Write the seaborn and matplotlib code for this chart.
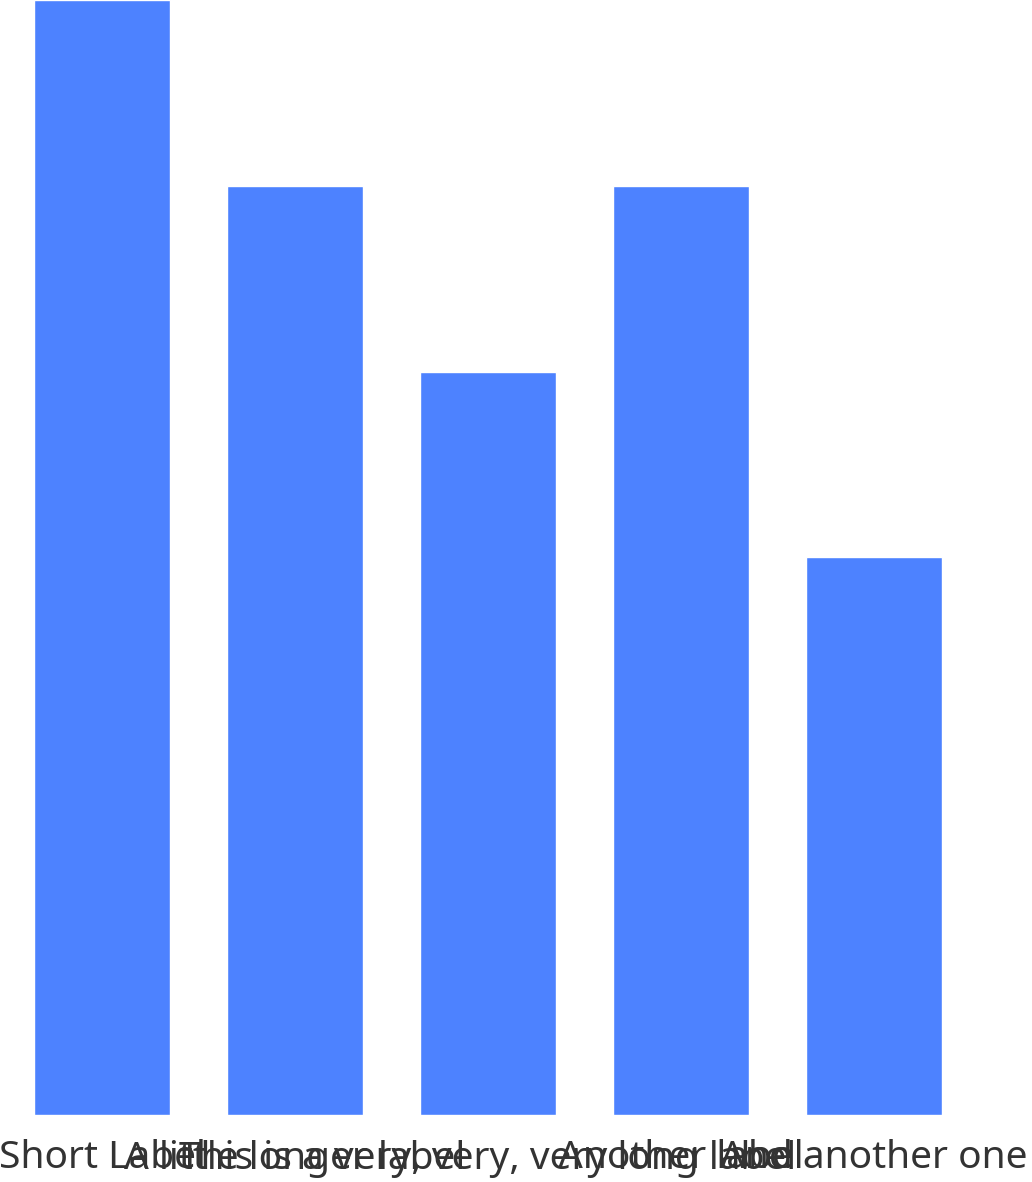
import matplotlib
matplotlib.use("Agg")
import matplotlib.pyplot as plt
import seaborn as sns
import pandas as pd

labels = ["Short Label", "A little longer label", "This is a very, very, very long label",
          "Another label", "And another one"]
values = [30, 25, 20, 25, 15]

sns.set_style("white")
plt.rcParams['font.family'] = ['Noto Sans', 'DejaVu Sans']

df = pd.DataFrame({"label": labels, "value": values})

fig = plt.figure(figsize=(10.32, 11.82), dpi=100)
ax = fig.add_axes([5.5 / 1032, 67.5 / 1182, 965 / 1032, 1114.5 / 1182])
sns.barplot(data=df, x="label", y="value", color="#4d82ff", saturation=1, width=0.7, ax=ax)

ax.set_xlim(-0.5, 4.5)
ax.set_ylim(0, max(values))
ax.set_xlabel("")
ax.set_ylabel("")
ax.set_yticks([])
sns.despine(ax=ax, left=True, bottom=True)
ax.tick_params(axis="x", length=0, pad=18, labelsize=28, labelcolor="#333333")

fig.savefig("out.png", dpi=100)
